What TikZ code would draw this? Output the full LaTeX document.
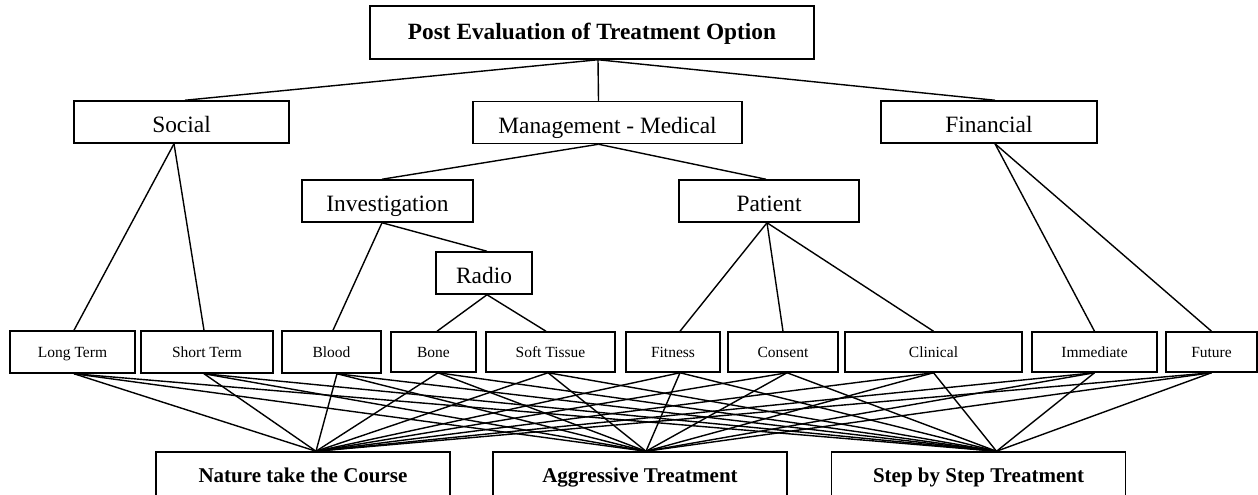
\documentclass[tikz,border=0pt]{standalone}
\usepackage{fontspec}
\setmainfont{Liberation Serif}
\tikzset{
  box/.style={draw, line width=1.5pt, inner sep=0pt, align=center},
  titlebox/.style={box, font=\fontsize{23.3}{27}\selectfont\bfseries, text height=14pt, text depth=0pt},
  midbox/.style={box, font=\fontsize{23.4}{27}\selectfont, text height=21pt, text depth=0pt},
  leafbox/.style={box, font=\fontsize{15.5}{18}\selectfont, text height=10pt, text depth=0pt},
  bottombox/.style={box, font=\fontsize{21}{25}\selectfont\bfseries, text height=15pt, text depth=0pt},
  conn/.style={line width=1.4pt},
}
\begin{document}
\begin{tikzpicture}[x=1pt,y=-1pt]
\useasboundingbox (0,0) rectangle (1258,495);
% top
\node[titlebox, minimum width=444pt, minimum height=53pt] (top) at (592,32.5) {Post Evaluation of Treatment Option};
% level 1
\node[midbox, minimum width=215pt, minimum height=42pt] (social) at (181.5,122) {Social};
\node[midbox, minimum width=269pt, minimum height=42pt] (mgmt) at (607.5,122.5) {Management - Medical};
\node[midbox, minimum width=216pt, minimum height=42pt] (fin) at (989,122) {Financial};
% level 2
\node[midbox, minimum width=171pt, minimum height=42pt] (inv) at (387.5,201) {Investigation};
\node[midbox, minimum width=180pt, minimum height=42pt] (pat) at (769,201) {Patient};
% level 3
\node[midbox, minimum width=96pt, minimum height=42pt] (radio) at (484,273) {Radio};
% leaves
\node[leafbox, minimum width=125pt, minimum height=42pt] (long) at (72.5,352) {Long Term};
\node[leafbox, minimum width=132pt, minimum height=42pt] (short) at (207,352) {Short Term};
\node[leafbox, minimum width=99pt, minimum height=42pt] (blood) at (331.5,352) {Blood};
\node[leafbox, minimum width=85pt, minimum height=40pt] (bone) at (433.5,352) {Bone};
\node[leafbox, minimum width=129pt, minimum height=40pt] (soft) at (550.5,352) {Soft Tissue};
\node[leafbox, minimum width=94pt, minimum height=40pt] (fitness) at (673,352) {Fitness};
\node[leafbox, minimum width=110pt, minimum height=40pt] (consent) at (783,352) {Consent};
\node[leafbox, minimum width=177pt, minimum height=40pt] (clinical) at (933.5,352) {Clinical};
\node[leafbox, minimum width=125pt, minimum height=40pt] (imm) at (1094.5,352) {Immediate};
\node[leafbox, minimum width=91pt, minimum height=40pt] (fut) at (1211.5,352) {Future};
% bottom
\node[bottombox, minimum width=294pt, minimum height=45pt] (nat) at (303,474.5) {Nature take the Course};
\node[bottombox, minimum width=294pt, minimum height=45pt] (agg) at (640,474.5) {Aggressive Treatment};
\node[bottombox, minimum width=294pt, minimum height=45pt] (stepn) at (978.5,474.5) {Step by Step Treatment};
% convergence points
\coordinate (natc) at ([xshift=13pt]nat.north);
\coordinate (aggc) at ([xshift=6pt]agg.north);
\coordinate (stepc) at ([xshift=18pt]stepn.north);
% tree connectors
\draw[conn] ([xshift=6pt]top.south) -- ([xshift=3.5pt]social.north);
\draw[conn] ([xshift=6pt]top.south) -- ([xshift=-9pt]mgmt.north);
\draw[conn] ([xshift=6pt]top.south) -- ([xshift=6pt]fin.north);
\draw[conn] ([xshift=-7.5pt]social.south) -- ([xshift=1.5pt]long.north);
\draw[conn] ([xshift=-7.5pt]social.south) -- ([xshift=-3pt]short.north);
\draw[conn] ([xshift=-9pt]mgmt.south) -- ([xshift=-5.5pt]inv.north);
\draw[conn] ([xshift=-9pt]mgmt.south) -- ([xshift=-3pt]pat.north);
\draw[conn] ([xshift=-5.5pt]inv.south) -- ([xshift=1.5pt]blood.north);
\draw[conn] ([xshift=-5.5pt]inv.south) -- ([xshift=3pt]radio.north);
\draw[conn] ([xshift=3pt]radio.south) -- ([xshift=3.5pt]bone.north);
\draw[conn] ([xshift=3pt]radio.south) -- ([xshift=-4.5pt]soft.north);
\draw[conn] ([xshift=-2pt]pat.south) -- ([xshift=7pt]fitness.north);
\draw[conn] ([xshift=-2pt]pat.south) -- (consent.north);
\draw[conn] ([xshift=-2pt]pat.south) -- (clinical.north);
\draw[conn] ([xshift=6pt]fin.south) -- (imm.north);
\draw[conn] ([xshift=6pt]fin.south) -- (fut.north);
% mesh
\foreach \l/\s in {long/1.5, short/-3, blood/5.5, bone/4.5, soft/-2.5, fitness/7, consent/4, clinical/0, imm/0, fut/0}{
  \foreach \b in {natc, aggc, stepc}{
    \draw[conn] ([xshift=\s pt]\l.south) -- (\b);
  }
}
\end{tikzpicture}
\end{document}
